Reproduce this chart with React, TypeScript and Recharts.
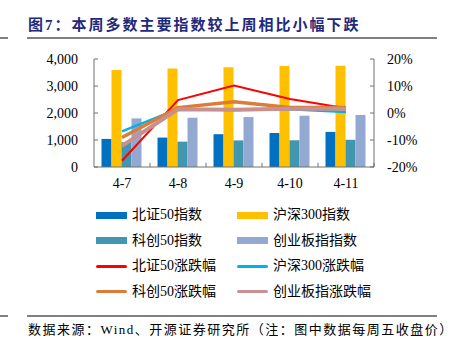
import React from 'react';
import { ComposedChart, Bar, Line, XAxis, YAxis } from 'recharts';

const categories = ['4-7', '4-8', '4-9', '4-10', '4-11'];
const bz50 = [1040, 1090, 1215, 1260, 1300];
const hs300 = [3590, 3650, 3690, 3740, 3750];
const kc50 = [920, 940, 985, 990, 1008];
const cyb = [1800, 1825, 1850, 1900, 1925];
const bz50Chg = [-17.7, 4.8, 10.2, 5.2, 1.8];
const hs300Chg = [-6.8, 1.5, 1.1, 1.4, 0.4];
const kc50Chg = [-9.1, 2.0, 4.2, 2.0, 2.0];
const cybChg = [-12.2, 1.4, 1.2, 1.6, 1.6];
const leftTicks = [0, 1000, 2000, 3000, 4000];
const rightTicks = [-20, -10, 0, 10, 20];

const data = categories.map((c, i) => ({
  name: c,
  bz50: bz50[i],
  hs300: hs300[i],
  kc50: kc50[i],
  cyb: cyb[i],
  bz50Chg: bz50Chg[i],
  hs300Chg: hs300Chg[i],
  kc50Chg: kc50Chg[i],
  cybChg: cybChg[i],
}));

const FONT = '"Liberation Serif", "Noto Sans CJK SC", serif';
const AXIS = '#707070';

const legendItems = [
  { label: '北证50指数', color: '#0070C0', kind: 'bar' },
  { label: '沪深300指数', color: '#FFC000', kind: 'bar' },
  { label: '科创50指数', color: '#4197AF', kind: 'bar' },
  { label: '创业板指指数', color: '#93A9D2', kind: 'bar' },
  { label: '北证50涨跌幅', color: '#FF0000', kind: 'line' },
  { label: '沪深300涨跌幅', color: '#00B0F0', kind: 'line' },
  { label: '科创50涨跌幅', color: '#D97D38', kind: 'line' },
  { label: '创业板指涨跌幅', color: '#C99090', kind: 'line' },
];

const XTick = (props: any) => {
  const { x, y, payload, index, visibleTicksCount } = props;
  const half = payload && typeof payload.offset === 'number' && payload.offset > 0 ? payload.offset : 28;
  const axisY = y - 11;
  const last = index === (visibleTicksCount ?? 5) - 1;
  return (
    <g>
      {index > 0 && (
        <line x1={x - half} x2={x - half} y1={axisY - 4} y2={axisY} stroke={AXIS} strokeWidth={1} />
      )}
      {last && (
        <line x1={x + half} x2={x + half} y1={axisY - 4} y2={axisY} stroke={AXIS} strokeWidth={1} />
      )}
      <text x={x} y={y} dy="0.71em" textAnchor="middle" fill="#000" fontSize={14} fontFamily={FONT}>
        {payload.value}
      </text>
    </g>
  );
};

export default function App() {
  return (
    <div style={{ position: 'absolute', left: 0, top: 0, width: 456, height: 354, background: '#fff', fontFamily: FONT }}>
      <div
        style={{
          position: 'absolute',
          left: 28,
          top: 15,
          height: 20,
          lineHeight: '20px',
          fontSize: 15,
          fontWeight: 'bold',
          letterSpacing: 2,
          color: '#1F2A7C',
          whiteSpace: 'nowrap',
        }}
      >
        图7：本周多数主要指数较上周相比小幅下跌
      </div>
      <div style={{ position: 'absolute', left: 0, top: 37, width: 8, height: 1.5, background: '#808080' }} />
      <div style={{ position: 'absolute', left: 27, top: 37, width: 410, height: 1.5, background: '#808080' }} />

      <div style={{ position: 'absolute', left: 0, top: 0 }}>
        <ComposedChart
          width={456}
          height={200}
          data={data}
          margin={{ top: 59, right: 12, bottom: 3, left: 14 }}
          barCategoryGap="13.4%"
          barGap={0}
        >
          <XAxis
            dataKey="name"
            height={30}
            stroke={AXIS}
            tickLine={false}
            tickSize={0}
            tickMargin={11}
            tick={<XTick />}
            interval={0}
          />
          <YAxis
            yAxisId="left"
            width={80}
            domain={[0, 4000]}
            ticks={leftTicks}
            tickFormatter={(v: number) => v.toLocaleString('en-US')}
            stroke={AXIS}
            tickSize={-4}
            tickMargin={20}
            tick={{ fill: '#000', fontSize: 14, fontFamily: FONT }}
            interval={0}
          />
          <YAxis
            yAxisId="right"
            orientation="right"
            width={70}
            domain={[-20, 20]}
            ticks={rightTicks}
            tickFormatter={(v: number) => `${v}%`}
            stroke={AXIS}
            tickSize={-4}
            tickMargin={17}
            tick={{ fill: '#000', fontSize: 14, fontFamily: FONT }}
            interval={0}
          />
          <Bar yAxisId="left" dataKey="bz50" fill="#0070C0" isAnimationActive={false} />
          <Bar yAxisId="left" dataKey="hs300" fill="#FFC000" isAnimationActive={false} />
          <Bar yAxisId="left" dataKey="kc50" fill="#4197AF" isAnimationActive={false} />
          <Bar yAxisId="left" dataKey="cyb" fill="#93A9D2" isAnimationActive={false} />
          <Line yAxisId="right" type="linear" dataKey="bz50Chg" stroke="#FF0000" strokeWidth={2} dot={false} isAnimationActive={false} />
          <Line yAxisId="right" type="linear" dataKey="hs300Chg" stroke="#00B0F0" strokeWidth={2.5} dot={false} isAnimationActive={false} />
          <Line yAxisId="right" type="linear" dataKey="kc50Chg" stroke="#D97D38" strokeWidth={3.5} dot={false} isAnimationActive={false} />
          <Line yAxisId="right" type="linear" dataKey="cybChg" stroke="#C99090" strokeWidth={4} dot={false} isAnimationActive={false} />
        </ComposedChart>
      </div>

      {legendItems.map((it, i) => {
        const col = i % 2;
        const row = Math.floor(i / 2);
        const left = col === 0 ? 96 : 237;
        const cy = 215 + row * 25.6;
        const h = it.kind === 'bar' ? 7 : 3;
        return (
          <React.Fragment key={it.label}>
            <div
              style={{
                position: 'absolute',
                left,
                top: cy - h / 2,
                width: 31,
                height: h,
                background: it.color,
                borderRadius: it.kind === 'line' ? 1.5 : 0,
              }}
            />
            <div
              style={{
                position: 'absolute',
                left: left + 36,
                top: cy - 10,
                height: 20,
                lineHeight: '20px',
                fontSize: 14,
                color: '#000',
                whiteSpace: 'nowrap',
              }}
            >
              {it.label}
            </div>
          </React.Fragment>
        );
      })}

      <div style={{ position: 'absolute', left: 0, top: 315, width: 8, height: 1.5, background: '#808080' }} />
      <div style={{ position: 'absolute', left: 27, top: 315, width: 410, height: 1.5, background: '#808080' }} />
      <div
        style={{
          position: 'absolute',
          left: 28,
          top: 321,
          height: 18,
          lineHeight: '18px',
          fontSize: 13,
          letterSpacing: 1.5,
          color: '#000',
          whiteSpace: 'nowrap',
        }}
      >
        数据来源：Wind、开源证券研究所（注：图中数据每周五收盘价）
      </div>
    </div>
  );
}
